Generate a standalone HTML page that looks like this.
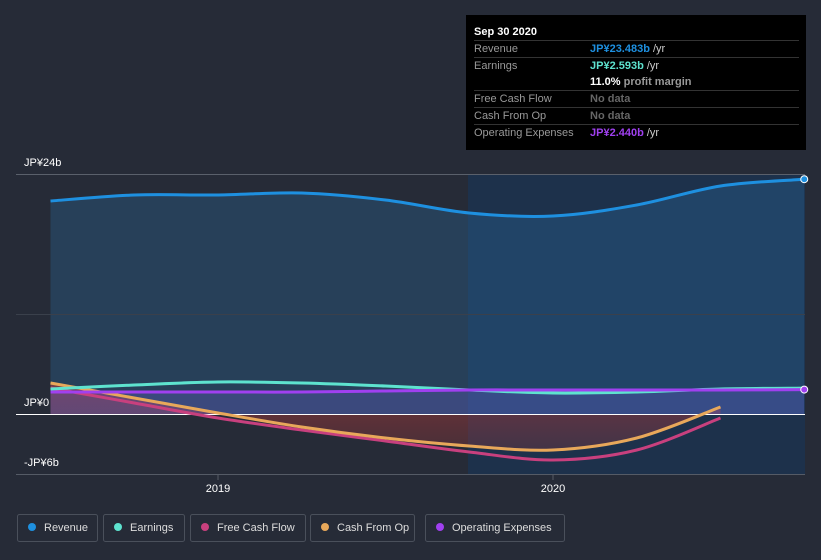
<!DOCTYPE html>
<html><head><meta charset="utf-8"><style>
body{margin:0;background:#262b37;font-family:"Liberation Sans",sans-serif;}
svg{display:block}
</style></head><body>
<svg width="821" height="560" id="chart">
<defs>
<linearGradient id="negGrad" x1="0" y1="0" x2="0" y2="1"><stop offset="0" stop-color="#b03a3a" stop-opacity="0.55"/><stop offset="1" stop-color="#b03a3a" stop-opacity="0.25"/></linearGradient>
</defs>
<rect x="468" y="174" width="337" height="300" fill="#1c3350" opacity="0.8"/>
<g id="marks"></g>
<text x="24" y="166" fill="#fff" font-size="11">JP¥24b</text>
<text x="24" y="406" fill="#fff" font-size="11">JP¥0</text>
<text x="24" y="466" fill="#fff" font-size="11">-JP¥6b</text>
<line x1="16" y1="474.5" x2="805" y2="474.5" stroke="#555b66"/>
<g id="xticks"></g>
<g font-size="11">
<rect x="466" y="15" width="340" height="135" fill="#000"/>
<text x="474" y="35" fill="#fff" font-weight="bold">Sep 30 2020</text>
<line x1="474" y1="40.5" x2="799" y2="40.5" stroke="#333"/>
<text x="474" y="52" fill="#999">Revenue</text><text x="590" y="52" fill="#1e90e0" font-weight="bold">JP¥23.483b <tspan fill="#ccc" font-weight="normal">/yr</tspan></text>
<line x1="474" y1="57.5" x2="799" y2="57.5" stroke="#333"/>
<text x="474" y="69" fill="#999">Earnings</text><text x="590" y="69" fill="#5ee3cf" font-weight="bold">JP¥2.593b <tspan fill="#ccc" font-weight="normal">/yr</tspan></text>
<text x="590" y="85" fill="#fff" font-weight="bold">11.0% <tspan fill="#999">profit margin</tspan></text>
<line x1="474" y1="90.5" x2="799" y2="90.5" stroke="#333"/>
<text x="474" y="102" fill="#999">Free Cash Flow</text><text x="590" y="102" fill="#666" font-weight="bold">No data</text>
<line x1="474" y1="107.5" x2="799" y2="107.5" stroke="#333"/>
<text x="474" y="119" fill="#999">Cash From Op</text><text x="590" y="119" fill="#666" font-weight="bold">No data</text>
<line x1="474" y1="124.5" x2="799" y2="124.5" stroke="#333"/>
<text x="474" y="136" fill="#999">Operating Expenses</text><text x="590" y="136" fill="#a040f0" font-weight="bold">JP¥2.440b <tspan fill="#ccc" font-weight="normal">/yr</tspan></text>
</g>
<g id="legend" font-size="11"></g>
</svg>
<script>
const times=[2018.5,2018.75,2019,2019.25,2019.5,2019.75,2020,2020.25,2020.5,2020.75];
const revenue=[21.3,21.9,21.9,22.1,21.4,20.1,19.8,20.9,22.8,23.48];
const earnings=[2.5,2.9,3.2,3.1,2.8,2.4,2.1,2.2,2.5,2.59];
const opex=[2.2,2.2,2.2,2.2,2.3,2.4,2.4,2.4,2.4,2.44];
const fcf=[2.6,1.1,-0.4,-1.6,-2.7,-3.8,-4.6,-3.6,-0.4];
const cfo=[3.1,1.6,0.1,-1.3,-2.4,-3.2,-3.6,-2.4,0.7];
const xTickYears=[2019,2020];
const NS="http://www.w3.org/2000/svg";
const X=t=>218+(t-2019)*335;
const Y=v=>414-v*10;
function pts(vals){return vals.map((v,i)=>[X(times[i]),Y(v)]);}
function path(p){let d="M"+p[0][0]+","+p[0][1];for(let i=0;i<p.length-1;i++){const p0=p[i-1]||p[i],p1=p[i],p2=p[i+1],p3=p[i+2]||p2;d+=" C"+(p1[0]+(p2[0]-p0[0])/6)+","+(p1[1]+(p2[1]-p0[1])/6)+" "+(p2[0]-(p3[0]-p1[0])/6)+","+(p2[1]-(p3[1]-p1[1])/6)+" "+p2[0]+","+p2[1];}return d;}
const g=document.getElementById('marks');
function add(tag,attrs,name){const e=document.createElementNS(NS,tag);for(const k in attrs)e.setAttribute(k,attrs[k]);


g.appendChild(e);return e;}
const rp=pts(revenue),y0=Y(0);
add('path',{d:path(rp)+" L"+rp[rp.length-1][0]+","+y0+" L"+rp[0][0]+","+y0+"Z",fill:"#2a6fa8","fill-opacity":"0.3"},'revenue-area');
const cp=pts(cfo);
add('path',{d:path(cp)+" L"+cp[cp.length-1][0]+","+y0+" L"+cp[0][0]+","+y0+"Z",fill:"url(#negGrad)"},'cash-flow-area');
const ep=pts(opex);
add('path',{d:path(ep)+" L"+ep[ep.length-1][0]+","+y0+" L"+ep[0][0]+","+y0+"Z",fill:"#6a5fd0","fill-opacity":"0.3"},'opex-area');
add('line',{x1:16,x2:805,y1:y0+0.5,y2:y0+0.5,stroke:"#fff","stroke-width":1},'zero-line');
add('line',{x1:16,x2:805,y1:174.5,y2:174.5,stroke:"#5a606b","stroke-width":1},'gridline-top');
add('line',{x1:16,x2:805,y1:314.5,y2:314.5,stroke:"#3a404b","stroke-width":1},'gridline-mid');
add('path',{d:path(pts(fcf)),fill:"none",stroke:"#c8407e","stroke-width":3},'fcf-line');
add('path',{d:path(cp),fill:"none",stroke:"#e8a85a","stroke-width":3},'cfo-line');
add('path',{d:path(pts(earnings)),fill:"none",stroke:"#5ee3cf","stroke-width":3},'earnings-line');
add('path',{d:path(ep),fill:"none",stroke:"#a040f0","stroke-width":3},'opex-line');
add('path',{d:path(rp),fill:"none",stroke:"#1e90e0","stroke-width":3},'revenue-line');
add('circle',{cx:rp[rp.length-1][0],cy:rp[rp.length-1][1],r:3.5,fill:"#1e90e0",stroke:"#fff"},'revenue-end-dot');
add('circle',{cx:ep[ep.length-1][0],cy:ep[ep.length-1][1],r:3.5,fill:"#a040f0",stroke:"#fff"},'opex-end-dot');
const xt=document.getElementById('xticks');
xTickYears.forEach(yr=>{const x=X(yr);
const l=document.createElementNS(NS,'line');l.setAttribute('x1',x);l.setAttribute('x2',x);l.setAttribute('y1',475);l.setAttribute('y2',480);l.setAttribute('stroke','#555b66');


xt.appendChild(l);
const t=document.createElementNS(NS,'text');t.setAttribute('x',x);t.setAttribute('y',492);t.setAttribute('fill','#fff');t.setAttribute('font-size','11');t.setAttribute('text-anchor','middle');t.textContent=yr;


xt.appendChild(t);});
const legendNames=["Revenue","Earnings","Free Cash Flow","Cash From Op","Operating Expenses"];
const legendColors=["#1e90e0","#5ee3cf","#c8407e","#e8a85a","#a040f0"];
const legendX=[17,103,190,310,425],legendW=[80,81,115,104,139];
const lg=document.getElementById('legend');
legendNames.forEach((n,i)=>{const gg=document.createElementNS(NS,'g');


gg.innerHTML='<rect x="'+(legendX[i]+0.5)+'" y="514.5" width="'+legendW[i]+'" height="27" rx="2" fill="none" stroke="#4a505b"/><circle cx="'+(legendX[i]+15)+'" cy="527" r="4" fill="'+legendColors[i]+'"/><text x="'+(legendX[i]+27)+'" y="531" fill="#ddd">'+n+'</text>';
lg.appendChild(gg);});
</script>
</body></html>
